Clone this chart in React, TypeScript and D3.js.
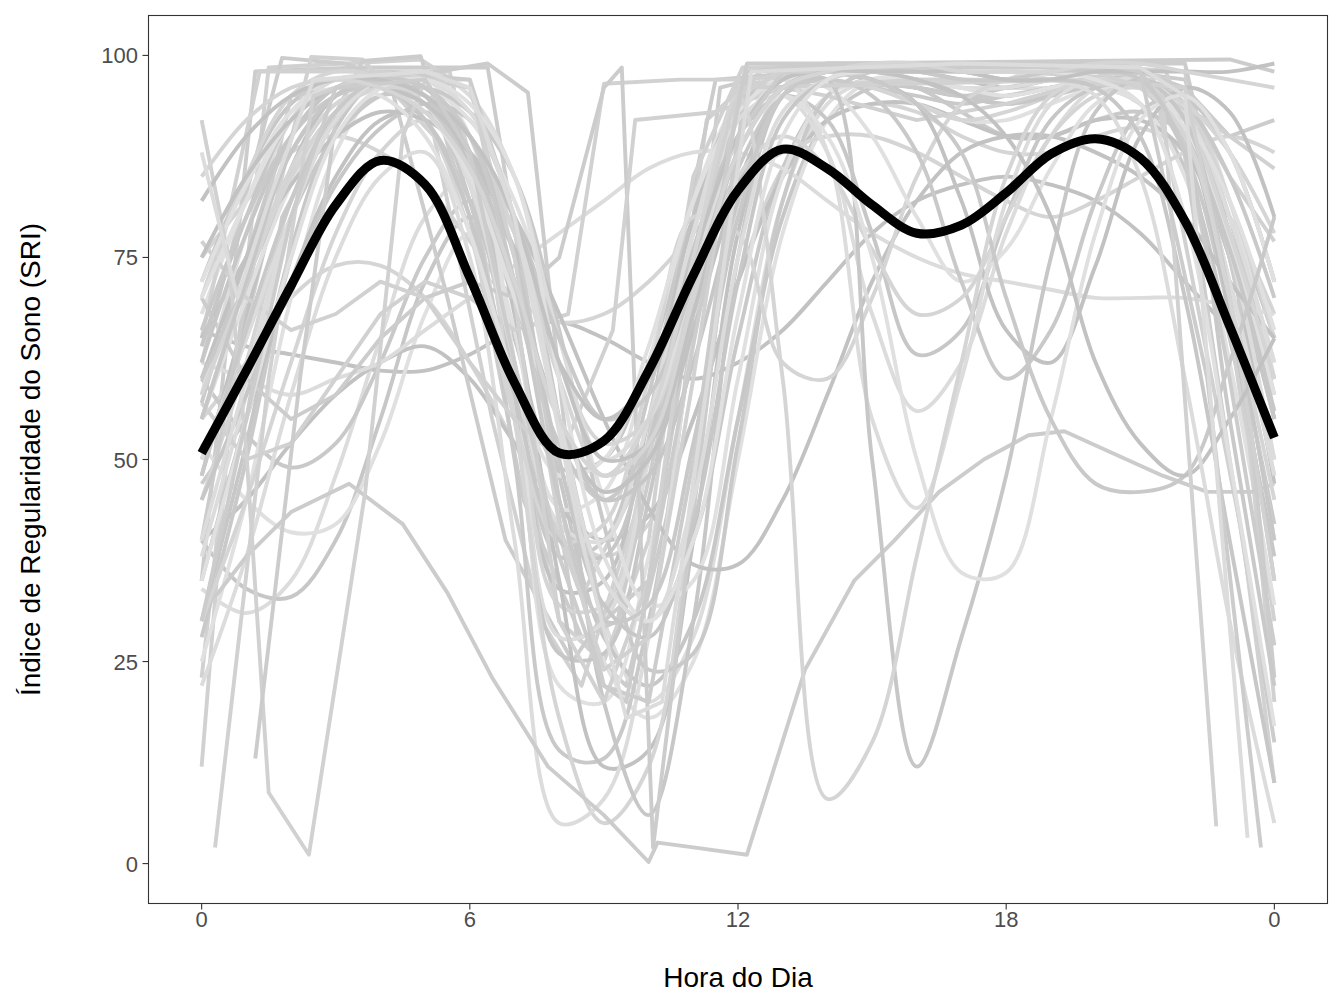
import React from 'react';
import * as d3 from 'd3';

const HOURS: number[] = [0,1,2,3,4,5,6,7,8,9,10,11,12,13,14,15,16,17,18,19,20,21,22,23,24];
const X_TICKS: number[] = [0, 6, 12, 18, 24];
const X_TICK_LABELS: string[] = ['0', '6', '12', '18', '0'];
const Y_TICKS: number[] = [0, 25, 50, 75, 100];

const MEAN_SRI: number[] = [50.8,61,71.5,81.5,87,84,72.5,59.5,50.8,52.3,61,72.8,83.3,88.4,86,81.5,78,79,83,87.8,89.7,87.3,79.5,66.5,52.7];

// Individual profiles sampled hourly (smooth-looking curves)
const SMOOTH_PROFILES: number[][] = [
  [66,64,63,62,61,61,63,66,67,65,62,60,62,66,72,78,82,84,85,84,82,78,72,66,60],
  [55,62,70,74,74,70,62,52,42,38,42,55,72,86,92,94,93,90,88,88,90,91,88,80,68],
  [34,31,35,48,65,80,85,78,55,30,20,28,55,82,94,97,97,96,96,96,97,96,90,72,48],
  [40,34,33,40,55,72,80,72,48,28,22,30,55,80,92,96,96,95,94,95,96,94,86,65,38],
  [52,45,41,42,52,68,78,70,45,25,18,25,50,78,92,97,97,96,95,96,96,94,85,62,32],
  [60,53,49,52,62,75,82,76,55,35,30,40,65,86,95,97,96,93,90,90,92,93,90,80,65],
  [40,45,52,58,62,64,60,52,44,40,43,55,72,85,92,94,94,92,90,90,92,92,88,75,55],
  [75,82,88,90,88,84,77,70,67,68,72,78,84,88,90,90,88,85,82,80,82,85,88,90,88],
  [62,60,58,60,62,66,70,74,78,82,86,88,88,86,82,78,75,73,72,71,70,70,70,69,68],
  [72,85,94,97,96,92,82,65,49,50,62,80,93,97,98,97,96,95,95,96,97,96,90,75,55],
  [68,82,93,97,97,94,85,66,44,46,62,82,94,97,97,96,94,92,92,94,96,96,92,80,62],
  [57,75,90,96,97,95,84,60,38,40,58,80,93,97,97,96,95,94,95,96,97,96,88,68,42],
  [48,68,86,95,97,95,86,60,34,35,55,80,94,98,98,97,97,97,97,98,98,97,90,68,35],
  [45,62,82,93,97,96,88,62,32,32,52,78,93,97,97,96,94,92,93,95,97,96,90,72,50],
  [38,58,80,93,97,96,88,60,28,30,50,78,94,98,98,98,97,97,97,98,98,97,92,70,40],
  [30,52,76,91,97,96,88,58,26,26,45,75,93,98,98,97,96,95,96,97,98,97,93,78,55],
  [25,45,70,88,96,97,90,62,22,20,38,70,92,98,98,98,98,97,97,98,98,98,95,82,60],
  [28,50,75,90,95,94,82,50,14,13,30,65,90,97,98,97,96,95,95,96,97,96,92,78,58],
  [35,55,72,85,92,93,88,68,35,12,14,40,78,95,98,98,98,97,96,97,98,97,93,75,47],
  [30,45,62,78,88,92,85,55,18,5,12,45,82,96,98,98,98,98,98,98,98,97,94,82,65],
  [22,38,58,75,85,88,75,40,5,8,28,65,90,97,98,98,97,96,96,97,98,97,92,76,50],
  [45,58,72,84,91,94,92,80,55,20,6,30,75,95,98,98,97,95,94,95,97,97,95,88,72],
  [55,70,84,93,96,96,92,82,65,45,32,35,60,85,95,97,97,96,95,96,97,96,91,77,58],
  [50,65,80,90,95,96,93,85,66,42,24,26,52,82,95,98,98,98,97,97,98,97,94,85,70],
  [65,75,84,90,93,92,88,80,68,55,44,37,37,45,58,72,82,88,90,90,88,85,80,72,65],
  [70,85,95,98,97,92,78,55,40,42,60,80,78,62,60,70,85,94,97,98,98,97,92,78,60],
  [58,78,92,97,97,94,84,62,42,40,55,78,92,95,88,68,56,62,78,90,96,97,93,80,62],
  [64,80,92,96,96,92,80,58,40,38,52,76,90,95,92,78,63,66,80,92,96,96,90,76,56],
  [72,84,93,96,95,90,78,60,48,50,64,82,93,97,96,90,80,72,76,86,94,96,92,82,66],
  [66,80,90,95,96,94,86,70,52,45,52,70,86,95,97,95,88,72,60,66,82,93,95,88,72],
  [60,75,88,95,97,95,88,72,55,46,50,66,84,95,98,97,94,82,66,62,74,90,96,93,80],
  [55,72,86,94,96,95,90,78,62,52,55,70,85,90,86,76,68,70,80,90,95,96,94,88,78],
  [50,65,80,92,97,98,95,85,65,50,55,72,90,97,88,55,44,60,82,94,97,96,90,72,48],
  [62,78,90,96,97,95,88,72,55,45,48,62,82,95,97,50,12,28,48,75,93,97,92,70,40],
  [70,82,92,96,96,93,85,70,55,48,55,72,88,95,90,75,50,36,36,55,78,92,95,88,72],
  [60,72,85,93,96,95,90,80,65,55,58,72,88,96,98,97,94,88,70,55,47,46,48,62,80],
  [75,85,92,96,96,94,88,76,62,55,60,75,90,97,98,98,97,95,90,80,62,52,48,55,65],
  [58,72,85,93,96,95,90,78,60,48,55,75,95,60,8,15,38,62,85,95,97,96,90,70,45],
  [40,60,80,92,97,97,93,80,55,35,30,45,75,93,97,98,98,98,98,97,95,85,60,30,5],
  [55,72,88,95,97,96,90,75,50,32,28,42,72,92,97,98,98,98,97,97,96,90,70,40,10],
  [35,55,75,90,96,97,94,85,60,38,30,40,68,90,97,98,98,98,98,98,97,94,80,50,17],
  [48,66,82,93,97,96,90,72,45,30,32,52,80,95,98,98,98,97,97,98,98,97,88,55,22],
  [82,90,95,97,97,95,90,80,62,50,52,68,88,96,98,98,98,98,97,97,98,98,98,98,99],
  [85,92,96,97,96,93,86,72,55,48,52,70,88,96,98,99,99,98,98,98,99,99,98,97,96],
];

// Individual profiles with irregular sampling ([hour, SRI])
const ANGULAR_PROFILES: [number, number][][] = [
  [[0,35],[1.2,98],[3.5,98.5],[6.4,98.5],[7.4,65],[8.4,28],[9.5,22],[10.5,45],[11.6,96],[13,98],[20,98.5],[22,97],[23,80],[24,60]],
  [[0,23],[1.5,98.5],[4.9,99.5],[5.6,97],[7,55],[8,30],[9,25],[10,40],[11.3,92],[12.5,98],[18,99],[21.5,99],[22.5,85],[24,30]],
  [[0,62],[1.8,99.7],[3.2,99],[4.2,97],[5.5,70],[6.8,40],[8.3,25],[9.5,35],[10.5,70],[11.5,97],[16,99],[20,99],[21.8,95],[23,50],[24,15]],
  [[0,12],[0.7,60],[2.45,99.8],[3.6,99.5],[5.2,90],[6.5,55],[7.6,30],[8.5,22],[9.8,45],[11,85],[12.1,98.5],[19,99],[22,98],[23.3,60],[24,20]],
  [[0,47],[1,55],[1.8,80],[3.6,99.3],[4.9,99.9],[6,80],[7.2,45],[8.5,28],[9.3,30],[10.5,60],[12,96],[14,99],[23,99.5],[24,98]],
  [[0,65],[1.3,98],[5.55,98],[6.5,75],[7.5,48],[8.5,33],[10,50],[12,97],[14,98],[18,98],[21.3,97],[23.3,40],[24,10]],
  [[0,40],[1,70],[2,95],[6.4,99],[7.3,95.4],[8.2,50],[9,30],[10,35],[11,70],[12.2,99],[22,99],[23.2,70],[24,23]],
  [[0,57],[1,50],[2,52],[3,60],[4,68],[5,72],[6,70],[7,66],[8.2,68],[9,96.5],[10.7,97],[12,97],[14,95],[16,92],[18,94],[20,97],[22,95],[23,85],[24,77]],
  [[0,70],[1,60],[2,55],[3,58],[4,65],[5,70],[6,72],[7,70],[8,75],[9,96],[9.4,98.5],[10.1,2],[12.2,98],[14,99],[18,98.5],[21,98],[22,96],[23,90],[24,92]],
  [[0,77],[1,70],[2,66],[3,68],[4,72],[5,70],[6,62],[7,55],[8,50],[9.2,66],[9.7,92],[11.5,93],[13,96],[16,97],[19,97],[21,96],[22.5,92],[24,86]],
  [[0.3,33],[1,38],[2,43.5],[3.3,47],[4.5,42],[5.5,33.5],[6.5,23],[7.75,12],[9,6],[10,0.2],[10.2,2.6],[11,2],[12.2,1.1],[13.5,24],[14.6,35],[15.5,40],[16.5,46],[17.5,50],[18.5,53],[19.3,53.5],[20.3,51],[21.5,48],[22.5,46],[23.5,46],[24,47]],
  [[0,92],[0.6,75],[1,51],[1.5,8.8],[2.4,1.1],[3.66,46],[4.5,90],[5,97],[6,97],[7,70],[8,30],[9,20],[10,35],[11,75],[12,96],[20,97],[22,96],[23,70],[24,35]],
  [[1.2,13],[2.2,60],[3,92],[4,98],[6,97],[7,80],[8,45],[9,22],[10,20],[11,50],[12,90],[13,98],[21,98],[22,90],[23,60],[24,27]],
  [[0.3,2],[1.5,60],[2.5,95],[4,98],[6,96],[7,75],[8,42],[9,24],[10,28],[11,60],[12,95],[13,98],[20,98],[21.5,95],[22.7,4.6]],
  [[0,30],[1,55],[2,80],[3,96],[5,97],[6,88],[7,62],[8,38],[9,22],[9.5,20],[12.15,98],[15,99],[20,99],[21,98],[22.5,60],[23.7,2]],
  [[0,88],[0.8,70],[1.5,82],[2.5,97],[5,98],[6,96],[7,80],[8.5,40],[9.5,18],[10.3,20],[12.3,98],[17,99],[21,98.5],[22,95],[23.4,3.2]],
];

const GREYS = ['#c2c2c2', '#cccccc', '#d5d5d5', '#dcdcdc', '#c7c7c7', '#d1d1d1', '#e0e0e0', '#c9c9c9'];

export default function App() {
  const W = 1344, H = 1008;
  const left = 148, right = 1328, top = 15, bottom = 904;
  const x = d3.scaleLinear().domain([-1.2, 25.2]).range([left, right]);
  const y = d3.scaleLinear().domain([-5, 105]).range([bottom, top]);

  const smoothLine = d3.line<number>()
    .x((_, i) => x(HOURS[i]))
    .y((d) => y(d))
    .curve(d3.curveCatmullRom.alpha(0.5));
  const angularLine = d3.line<[number, number]>()
    .x((d) => x(d[0]))
    .y((d) => y(d[1]))
    .curve(d3.curveLinear);

  const font = 'Liberation Sans, Arial, Helvetica, sans-serif';

  const paths: { d: string; c: string }[] = [];
  const total = SMOOTH_PROFILES.length + ANGULAR_PROFILES.length;
  let si = 0, ai = 0;
  for (let k = 0; k < total; k++) {
    const useAngular = (k % 4 === 1 && ai < ANGULAR_PROFILES.length) || si >= SMOOTH_PROFILES.length;
    if (useAngular) {
      paths.push({ d: angularLine(ANGULAR_PROFILES[ai]) || '', c: GREYS[k % GREYS.length] });
      ai++;
    } else {
      paths.push({ d: smoothLine(SMOOTH_PROFILES[si]) || '', c: GREYS[k % GREYS.length] });
      si++;
    }
  }

  return (
    <svg width={W} height={H} style={{ position: 'absolute', left: 0, top: 0, background: '#fff' }}>
      <rect x={0} y={0} width={W} height={H} fill="#ffffff" />
      <defs>
        <clipPath id="panel">
          <rect x={left} y={top} width={right - left} height={bottom - top} />
        </clipPath>
      </defs>
      <g clipPath="url(#panel)">
        {paths.map((p, i) => (
          <path key={i} d={p.d} fill="none" stroke={p.c} strokeWidth={3.9} strokeLinejoin="round" />
        ))}
        <path d={smoothLine(MEAN_SRI) || ''} fill="none" stroke="#000" strokeWidth={9} strokeLinejoin="round" />
      </g>
      <rect x={left + 0.5} y={top + 0.5} width={right - left - 1} height={bottom - top - 1} fill="none" stroke="#333333" strokeWidth={1.1} />
      {X_TICKS.map((t, i) => (
        <g key={'x' + i}>
          <line x1={x(t)} x2={x(t)} y1={bottom} y2={bottom + 5.5} stroke="#333333" strokeWidth={1.1} />
          <text x={x(t)} y={927} textAnchor="middle" fontFamily={font} fontSize={22} fill="#4d4d4d">{X_TICK_LABELS[i]}</text>
        </g>
      ))}
      {Y_TICKS.map((t, i) => (
        <g key={'y' + i}>
          <line x1={left - 5.5} x2={left} y1={y(t)} y2={y(t)} stroke="#333333" strokeWidth={1.1} />
          <text x={138} y={y(t) + 8} textAnchor="end" fontFamily={font} fontSize={22} fill="#4d4d4d">{String(t)}</text>
        </g>
      ))}
      <text x={(left + right) / 2} y={987} textAnchor="middle" fontFamily={font} fontSize={28} fill="#000">Hora do Dia</text>
      <text transform={`translate(39.5, ${(top + bottom) / 2}) rotate(-90)`} textAnchor="middle" fontFamily={font} fontSize={28} fill="#000">Índice de Regularidade do Sono (SRI)</text>
    </svg>
  );
}
